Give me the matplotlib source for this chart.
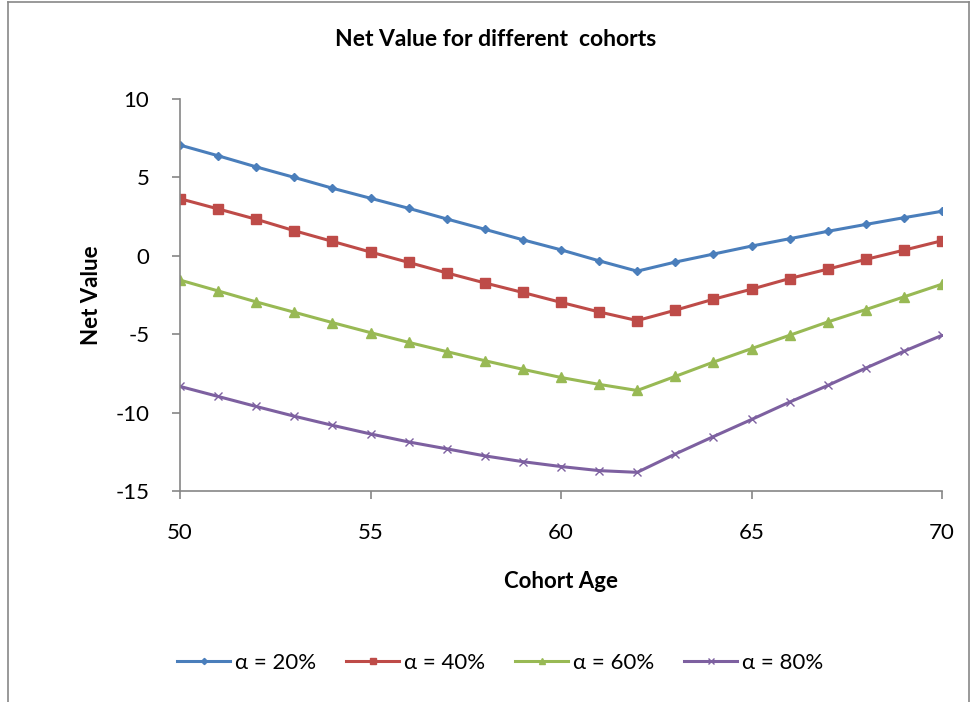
import numpy as np
from matplotlib import pyplot as plt
from matplotlib.lines import Line2D

plt.rcParams['font.family'] = ['Lato', 'DejaVu Sans']
plt.rcParams['axes.unicode_minus'] = False

ages = np.arange(50, 71)

nv_20 = [7.06, 6.38, 5.67, 5.00, 4.31, 3.67, 3.03, 2.35, 1.69, 1.02, 0.38,
         -0.32, -0.98, -0.40, 0.11, 0.62, 1.09, 1.56, 2.00, 2.43, 2.84]
nv_40 = [3.64, 2.99, 2.33, 1.60, 0.92, 0.24, -0.42, -1.09, -1.73, -2.34, -2.97,
         -3.58, -4.13, -3.47, -2.77, -2.13, -1.45, -0.85, -0.23, 0.36, 0.96]
nv_60 = [-1.55, -2.24, -2.94, -3.60, -4.26, -4.90, -5.52, -6.11, -6.69, -7.24, -7.76,
         -8.20, -8.59, -7.69, -6.78, -5.92, -5.07, -4.22, -3.43, -2.62, -1.81]
nv_80 = [-8.33, -8.97, -9.61, -10.23, -10.81, -11.36, -11.87, -12.31, -12.76, -13.13, -13.44,
         -13.70, -13.81, -12.64, -11.53, -10.44, -9.33, -8.27, -7.16, -6.09, -5.07]

labels = ['α = 20%', 'α = 40%', 'α = 60%', 'α = 80%']

fig = plt.figure(figsize=(9.73, 7.02), dpi=100)
ax = fig.add_axes([180/973, 1 - 491/702, 762/973, 392/702])

ax.plot(ages, nv_20, color='#4A7EBB', lw=2.2, marker='D', ms=4.5, label=labels[0])
ax.plot(ages, nv_40, color='#BE4B48', lw=2.2, marker='s', ms=6.5, label=labels[1])
ax.plot(ages, nv_60, color='#98B954', lw=2.2, marker='^', ms=6.5, label=labels[2])
ax.plot(ages, nv_80, color='#7D60A0', lw=2.2, marker='x', ms=6, mew=1, label=labels[3])

ax.set_xlim(50, 70)
ax.set_ylim(-15, 10)
ax.set_xticks(range(50, 71, 5))
ax.set_yticks(range(-15, 11, 5))
for s in ['top', 'right']:
    ax.spines[s].set_visible(False)
for s in ['left', 'bottom']:
    ax.spines[s].set_color('#868686')
    ax.spines[s].set_linewidth(1.2)
ax.tick_params(direction='out', length=6, width=1.2, color='#868686', labelsize=16)
ax.tick_params(axis='x', pad=17)
ax.tick_params(axis='y', pad=16)

ax.set_xlabel('Cohort Age', fontsize=16, fontweight='bold', labelpad=20)
ax.set_ylabel('Net Value', fontsize=16, fontweight='bold', labelpad=10)
fig.text(496/973, 1 - 40/702, 'Net Value for different  cohorts', fontsize=16.5,
         fontweight='bold', ha='center', va='center')

fig.legend(loc='center', bbox_to_anchor=(500/973, 1 - 663/702), ncol=4, frameon=False,
           fontsize=16, handlelength=2.4, columnspacing=1.35, handletextpad=0.2,
           markerscale=0.7)

# outer chart border
fig.add_artist(Line2D([8/973, 8/973], [0, 1 - 2/702], color='#888888', lw=1.2))
fig.add_artist(Line2D([8/973, 969/973], [1 - 2/702, 1 - 2/702], color='#888888', lw=1.2))
fig.add_artist(Line2D([969/973, 969/973], [0, 1 - 2/702], color='#888888', lw=1.2))

fig.savefig('out.png', dpi=100)
